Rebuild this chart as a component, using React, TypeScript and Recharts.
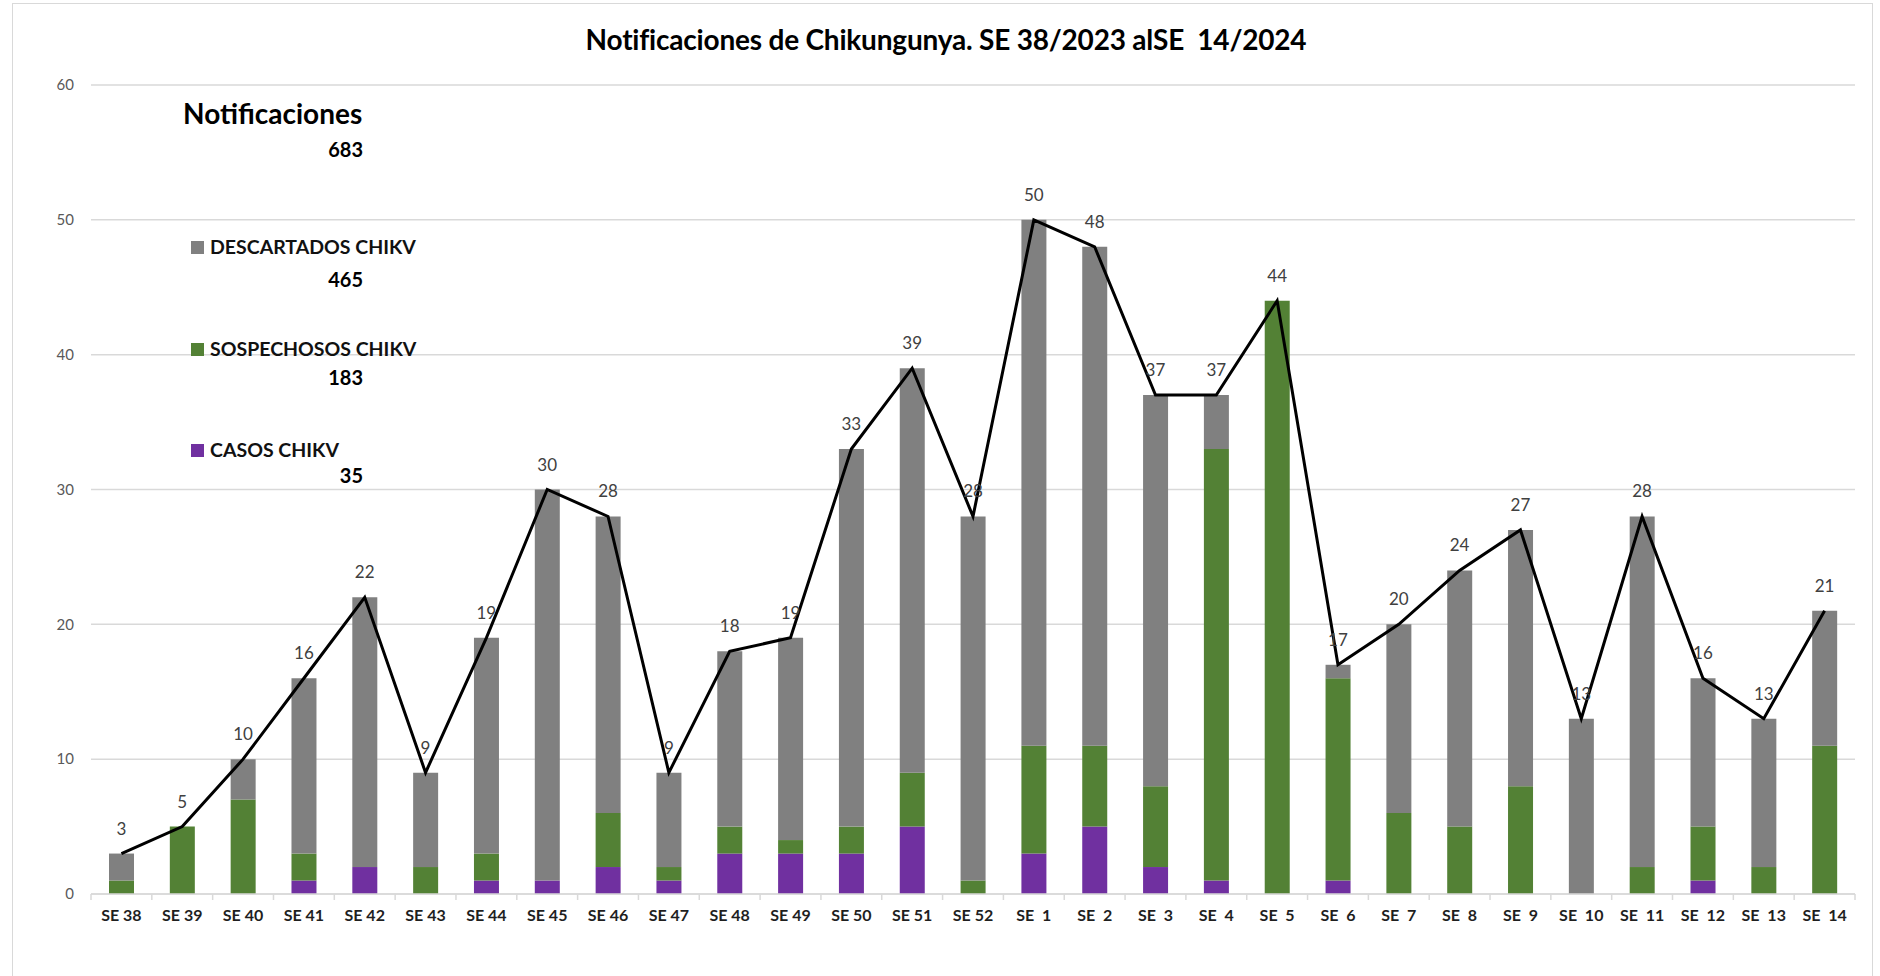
import React from "react";
import {
  ComposedChart,
  Bar,
  Line,
  XAxis,
  YAxis,
  CartesianGrid,
  Legend,
  LabelList,
} from "recharts";

const weeks = [
  "SE 38", "SE 39", "SE 40", "SE 41", "SE 42", "SE 43", "SE 44", "SE 45",
  "SE 46", "SE 47", "SE 48", "SE 49", "SE 50", "SE 51", "SE 52",
  "SE  1", "SE  2", "SE  3", "SE  4", "SE  5", "SE  6", "SE  7", "SE  8",
  "SE  9", "SE  10", "SE  11", "SE  12", "SE  13", "SE  14",
];

const casos = [0, 0, 0, 1, 2, 0, 1, 1, 2, 1, 3, 3, 3, 5, 0, 3, 5, 2, 1, 0, 1, 0, 0, 0, 0, 0, 1, 0, 0];
const sospechosos = [1, 5, 7, 2, 0, 2, 2, 0, 4, 1, 2, 1, 2, 4, 1, 8, 6, 6, 32, 44, 15, 6, 5, 8, 0, 2, 4, 2, 11];
const descartados = [2, 0, 3, 13, 20, 7, 16, 29, 22, 7, 13, 15, 28, 30, 27, 39, 37, 29, 4, 0, 1, 14, 19, 19, 13, 26, 11, 11, 10];

const yTicks = [0, 10, 20, 30, 40, 50, 60];

const FONT = "Lato, 'Noto Sans', sans-serif";
const CHART_W = 1880;
const CHART_H = 976;
const MARGIN = { top: 85, right: 25, bottom: 42, left: 41 };
const Y_AXIS_W = 50;

const data = weeks.map((name, i) => ({
  name,
  casos: casos[i],
  sospechosos: sospechosos[i],
  descartados: descartados[i],
  total: casos[i] + sospechosos[i] + descartados[i],
}));

const sum = (arr: number[]) => arr.reduce((a, b) => a + b, 0);

const series = [
  { key: "descartados", label: "DESCARTADOS CHIKV", color: "#808080", values: descartados },
  { key: "sospechosos", label: "SOSPECHOSOS CHIKV", color: "#538135", values: sospechosos },
  { key: "casos", label: "CASOS CHIKV", color: "#7030A0", values: casos },
];

const band = (CHART_W - MARGIN.left - MARGIN.right - Y_AXIS_W) / weeks.length;

const WeekTick = (props: any) => {
  const { x, y, payload, index } = props;
  return (
    <g>
      <line x1={x - band / 2} x2={x - band / 2} y1={y - 8} y2={y - 2} stroke="#d9d9d9" strokeWidth={1.5} />
      {index === weeks.length - 1 && (
        <line x1={x + band / 2} x2={x + band / 2} y1={y - 8} y2={y - 2} stroke="#d9d9d9" strokeWidth={1.5} />
      )}
      <text
        x={x}
        y={y + 19}
        textAnchor="middle"
        fill="#1f1f1f"
        fontSize={16}
        fontWeight={700}
        fontFamily={FONT}
        style={{ whiteSpace: "pre" }}
      >
        {payload.value}
      </text>
    </g>
  );
};

const txt = (top: number, size: number): React.CSSProperties => ({
  position: "absolute",
  top: top - size / 2,
  fontSize: size,
  lineHeight: 1,
  whiteSpace: "nowrap",
});

const renderLegend = () => {
  const rows = [
    { item: 247, total: 279 },
    { item: 349, total: 377 },
    { item: 450, total: 475 },
  ];
  return (
    <div style={{ position: "relative", width: 420, height: 500, fontFamily: FONT, fontWeight: 700, color: "#000" }}>
      <div style={{ ...txt(113, 28), left: 183 }}>Notificaciones</div>
      <div style={{ ...txt(149, 20), right: 420 - 363, textAlign: "right" }}>
        {sum(casos) + sum(sospechosos) + sum(descartados)}
      </div>
      {series.map((s, i) => (
        <React.Fragment key={s.key}>
          <div
            style={{
              position: "absolute",
              left: 191,
              top: rows[i].item - 6,
              width: 13,
              height: 13,
              background: s.color,
            }}
          />
          <div style={{ ...txt(rows[i].item, 19.5), left: 210, color: "#111" }}>{s.label}</div>
          <div style={{ ...txt(rows[i].total, 20), right: 420 - 363, textAlign: "right" }}>{sum(s.values)}</div>
        </React.Fragment>
      ))}
    </div>
  );
};

export default function App() {
  return (
    <div style={{ position: "absolute", left: 0, top: 0, width: CHART_W, height: CHART_H, background: "#fff", overflow: "hidden" }}>
      <div
        style={{
          position: "absolute",
          left: 12,
          top: 3,
          width: 1861,
          height: 1000,
          border: "1px solid #d9d9d9",
          boxSizing: "border-box",
        }}
      />
      <div
        style={{
          position: "absolute",
          left: 16,
          width: 1860,
          top: 23,
          textAlign: "center",
          fontFamily: FONT,
          fontWeight: 700,
          fontSize: 28,
          lineHeight: "32px",
          color: "#000",
          whiteSpace: "pre",
          letterSpacing: -0.2,
        }}
      >
        Notificaciones de Chikungunya. SE 38/2023 alSE  14/2024
      </div>
      <div style={{ position: "absolute", left: 0, top: 0 }}>
        <ComposedChart width={CHART_W} height={CHART_H} data={data} margin={MARGIN}>
          <CartesianGrid vertical={false} stroke="#d9d9d9" strokeWidth={1.5} />
          <XAxis
            dataKey="name"
            height={40}
            axisLine={{ stroke: "#d9d9d9", strokeWidth: 1.5 }}
            tickLine={false}
            tick={<WeekTick />}
            interval={0}
          />
          <YAxis
            width={Y_AXIS_W}
            domain={[0, 60]}
            ticks={yTicks}
            axisLine={false}
            tickLine={false}
            tickMargin={11}
            tick={{ fill: "#595959", fontSize: 15, fontFamily: FONT }}
          />
          <Legend
            layout="vertical"
            align="center"
            verticalAlign="middle"
            content={renderLegend}
            wrapperStyle={{ left: 0, top: 0, width: 420, height: 500 }}
          />
          <Bar dataKey="casos" name="CASOS CHIKV" stackId="a" fill="#7030A0" barSize={25} isAnimationActive={false} />
          <Bar dataKey="sospechosos" name="SOSPECHOSOS CHIKV" stackId="a" fill="#538135" barSize={25} isAnimationActive={false} />
          <Bar dataKey="descartados" name="DESCARTADOS CHIKV" stackId="a" fill="#808080" barSize={25} isAnimationActive={false} />
          <Line
            dataKey="total"
            type="linear"
            stroke="#000"
            strokeWidth={3}
            dot={false}
            legendType="none"
            isAnimationActive={false}
          >
            <LabelList dataKey="total" position="top" offset={19} fill="#404040" fontSize={17} fontFamily={FONT} />
          </Line>
        </ComposedChart>
      </div>
    </div>
  );
}
